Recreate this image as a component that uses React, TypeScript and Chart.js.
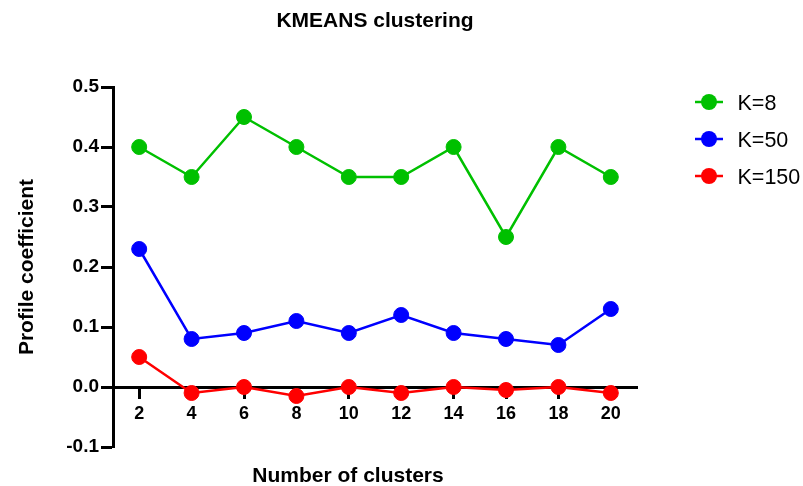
import React, { useEffect, useRef } from "react";
import { Chart, registerables } from "chart.js";

Chart.register(...registerables);

const categories = ["2", "4", "6", "8", "10", "12", "14", "16", "18", "20"];
const k8 = [0.4, 0.35, 0.45, 0.4, 0.35, 0.35, 0.4, 0.25, 0.4, 0.35];
const k50 = [0.23, 0.08, 0.09, 0.11, 0.09, 0.12, 0.09, 0.08, 0.07, 0.13];
const k150 = [0.05, -0.01, 0.0, -0.015, 0.0, -0.01, 0.0, -0.005, 0.0, -0.01];
const seriesLabels = ["K=8", "K=50", "K=150"];
const seriesColors = ["#00c000", "#0000ff", "#ff0000"];
const yTicks = [-0.1, 0.0, 0.1, 0.2, 0.3, 0.4, 0.5];

const titleText = "KMEANS clustering";
const xTitle = "Number of clusters";
const yTitle = "Profile coefficient";

const FONT = "Arial, 'Liberation Sans', Helvetica, sans-serif";

const overlay = {
  id: "overlay",
  afterDraw(chart: any) {
    const ctx = chart.ctx;
    const ca = chart.chartArea;
    ctx.save();
    ctx.fillStyle = "#000";
    ctx.textBaseline = "alphabetic";
    ctx.textAlign = "center";
    // title
    ctx.font = `bold 21px ${FONT}`;
    ctx.fillText(titleText, (ca.left + ca.right) / 2, 27);
    // x title
    ctx.font = `bold 21px ${FONT}`;
    ctx.fillText(xTitle, 348, 482);
    // y title
    ctx.save();
    ctx.translate(33, (ca.top + ca.bottom) / 2);
    ctx.rotate(-Math.PI / 2);
    ctx.fillText(yTitle, 0, 0);
    ctx.restore();
    // legend
    const ds = chart.data.datasets;
    ctx.font = `21.5px ${FONT}`;
    ctx.textAlign = "left";
    const ys = [102, 139, 176];
    ds.forEach((d: any, i: number) => {
      const y = ys[i];
      ctx.strokeStyle = d.borderColor;
      ctx.lineWidth = 2.5;
      ctx.beginPath();
      ctx.moveTo(695, y);
      ctx.lineTo(723, y);
      ctx.stroke();
      ctx.fillStyle = d.borderColor;
      ctx.beginPath();
      ctx.arc(709, y, 8, 0, Math.PI * 2);
      ctx.fill();
      ctx.fillStyle = "#000";
      ctx.fillText(d.label, 737.5, y + 7.5);
    });
    ctx.restore();
  },
};

export default function App() {
  const ref = useRef<HTMLCanvasElement | null>(null);
  useEffect(() => {
    if (!ref.current) return;
    const mk = (data: number[], i: number) => ({
      label: seriesLabels[i],
      data,
      borderColor: seriesColors[i],
      backgroundColor: seriesColors[i],
      pointBackgroundColor: seriesColors[i],
      pointBorderColor: seriesColors[i],
      borderWidth: 2.5,
      pointRadius: 7.5,
      pointBorderWidth: 1,
      tension: 0,
    });
    const chart = new Chart(ref.current, {
      type: "line",
      data: {
        labels: categories,
        datasets: [mk(k8, 0), mk(k50, 1), mk(k150, 2)],
      },
      options: {
        animation: false,
        responsive: false,
        layout: { padding: { left: 0, top: 87, right: 166, bottom: 39 } },
        plugins: {
          legend: { display: false },
          title: { display: false },
          tooltip: { enabled: false },
        },
        scales: {
          x: {
            type: "category",
            position: { y: 0 } as any,
            offset: true,
            grid: {
              offset: false,
              drawOnChartArea: false,
              drawTicks: true,
              tickLength: 10,
              tickWidth: 3,
              tickColor: "#000",
            },
            border: { display: true, color: "#000", width: 3 },
            ticks: {
              color: "#000",
              font: { family: FONT, size: 18, weight: "bold" },
              padding: 6,
              maxRotation: 0,
            },
          },
          y: {
            min: -0.1,
            max: 0.5,
            afterFit: (scale: any) => {
              scale.width = 113;
            },
            afterBuildTicks: (scale: any) => {
              scale.ticks = yTicks.map((v) => ({ value: v }));
            },
            grid: {
              drawOnChartArea: false,
              drawTicks: true,
              tickLength: 12,
              tickWidth: 3,
              tickColor: "#000",
            },
            border: { display: true, color: "#000", width: 3 },
            ticks: {
              color: "#000",
              font: { family: FONT, size: 19, weight: "bold" },
              padding: 2,
              callback: (v: any) => Number(v).toFixed(1),
            },
          },
        },
      },
      plugins: [overlay],
    });
    return () => chart.destroy();
  }, []);
  return (
    <div style={{ position: "fixed", left: 0, top: 0, width: 803, height: 486, background: "#fff" }}>
      <canvas ref={ref} width={803} height={486} />
    </div>
  );
}
